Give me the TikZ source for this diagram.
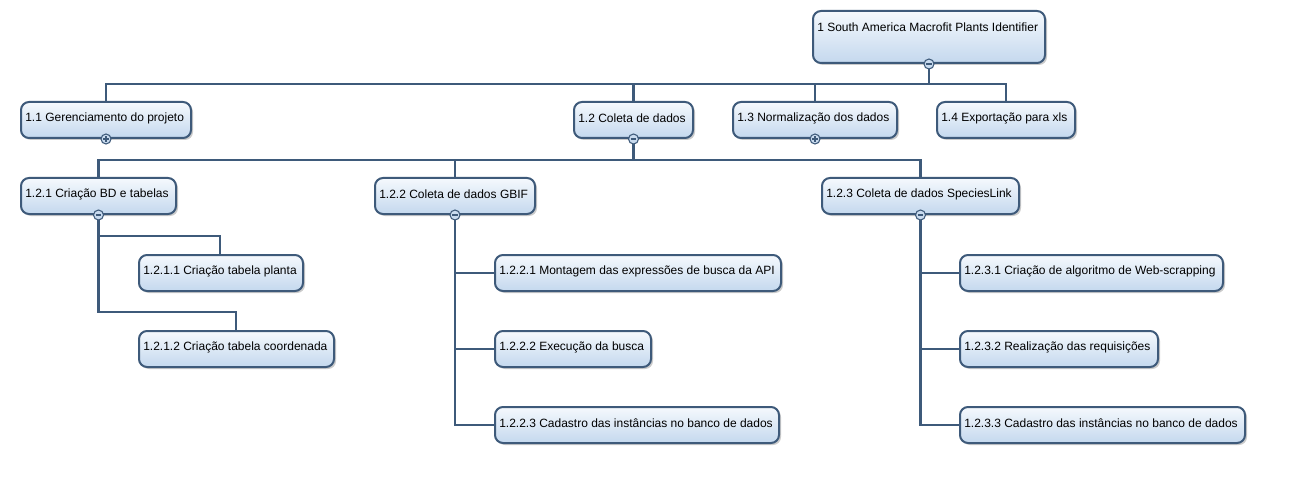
\documentclass[tikz,border=0pt]{standalone}
\usepackage{fontspec}
\setmainfont{Liberation Sans}
\usetikzlibrary{shadows,calc,backgrounds}
\definecolor{edge}{HTML}{3E5A7A}
\definecolor{boxtop}{HTML}{F5F9FD}
\definecolor{boxbot}{HTML}{C4D8EE}
\definecolor{markfill}{HTML}{C9DBEF}
\tikzset{
 box/.style={draw=edge, line width=1.5pt, rounded corners=6pt, top color=boxtop, bottom color=boxbot,
   drop shadow={shadow xshift=1.5pt, shadow yshift=-1.5pt, fill=black!45, opacity=0.45}, inner sep=0pt, anchor=north west},
 lbl/.style={anchor=west, inner sep=0pt, font=\fontsize{9}{11}\selectfont, text=black},
 conn/.style={draw=edge, line width=1.8pt},
 toggle/.style={circle, draw=edge, line width=0.8pt, fill=markfill, minimum size=7.5pt, inner sep=0pt},
 sign/.style={draw=edge, line width=0.9pt}
}
\newcommand{\wbs}[6]{%
 \node[box, minimum width=#4*0.75pt, minimum height=#5*0.75pt] (#1) at (#2,#3) {};
 \node[lbl] (#1t) at ($(#1.north west)+(5,17)$) {#6};}
\newcommand{\tgminus}[1]{%
 \node[toggle] (#1m) at (#1.south) {};
 \draw[sign] ($(#1m)+(-2.8,0)$) -- ($(#1m)+(2.8,0)$);}
\newcommand{\tgplus}[1]{%
 \node[toggle] (#1m) at (#1.south) {};
 \draw[sign] ($(#1m)+(-2.8,0)$) -- ($(#1m)+(2.8,0)$);
 \draw[sign] ($(#1m)+(0,-2.8)$) -- ($(#1m)+(0,2.8)$);}
\begin{document}
\begin{tikzpicture}[x=0.75pt, y=-0.75pt]
\useasboundingbox (0,0) rectangle (1302,481);
\wbs{r}{812}{10}{232}{52}{1 South America Macrofit Plants Identifier}
\wbs{a}{20}{101}{170}{36}{1.1 Gerenciamento do projeto}
\wbs{b}{573}{101}{119}{36}{1.2 Coleta de dados}
\wbs{c}{732}{101}{164}{36}{1.3 Normalização dos dados}
\wbs{d}{936}{101}{138}{36}{1.4 Exportação para xls}
\wbs{b1}{20}{177}{155}{36}{1.2.1 Criação BD e tabelas}
\wbs{b2}{374}{177}{160}{36}{1.2.2 Coleta de dados GBIF}
\wbs{b3}{821}{177}{197}{36}{1.2.3 Coleta de dados SpeciesLink}
\wbs{b11}{138}{254}{164}{36}{1.2.1.1 Criação tabela planta}
\wbs{b12}{138}{330}{195}{36}{1.2.1.2 Criação tabela coordenada}
\wbs{b21}{494}{254}{286}{36}{1.2.2.1 Montagem das expressões de busca da API}
\wbs{b22}{494}{330}{156}{36}{1.2.2.2 Execução da busca}
\wbs{b23}{494}{406}{284}{36}{1.2.2.3 Cadastro das instâncias no banco de dados}
\wbs{b31}{959}{254}{263}{36}{1.2.3.1 Criação de algoritmo de Web-scrapping}
\wbs{b32}{959}{330}{198}{36}{1.2.3.2 Realização das requisições}
\wbs{b33}{959}{406}{285}{36}{1.2.3.3 Cadastro das instâncias no banco de dados}
\begin{pgfonlayer}{background}
\fill[white] (0,0) rectangle (1302,481);
\draw[conn] (r.south) -- ++(0,20) -| (a.north);
\draw[conn] (r.south) -- ++(0,20) -| (b.north);
\draw[conn] (r.south) -- ++(0,20) -| (c.north);
\draw[conn] (r.south) -- ++(0,20) -| (d.north);
\draw[conn] (b.south) -- ++(0,21) -| (b1.north);
\draw[conn] (b.south) -- ++(0,21) -| (b2.north);
\draw[conn] (b.south) -- ++(0,21) -| (b3.north);
\draw[conn] (b1.south) -- ++(0,21) -| ($(b11.north west)+(82,0)$);
\draw[conn] (b1.south) -- ++(0,97) -| ($(b12.north west)+(98,0)$);
\draw[conn] (b2.south) |- (b21.west);
\draw[conn] (b2.south) |- (b22.west);
\draw[conn] (b2.south) |- (b23.west);
\draw[conn] (b3.south) |- (b31.west);
\draw[conn] (b3.south) |- (b32.west);
\draw[conn] (b3.south) |- (b33.west);
\end{pgfonlayer}
\tgminus{r}
\tgplus{a}
\tgminus{b}
\tgplus{c}
\tgminus{b1}
\tgminus{b2}
\tgminus{b3}
\end{tikzpicture}
\end{document}
